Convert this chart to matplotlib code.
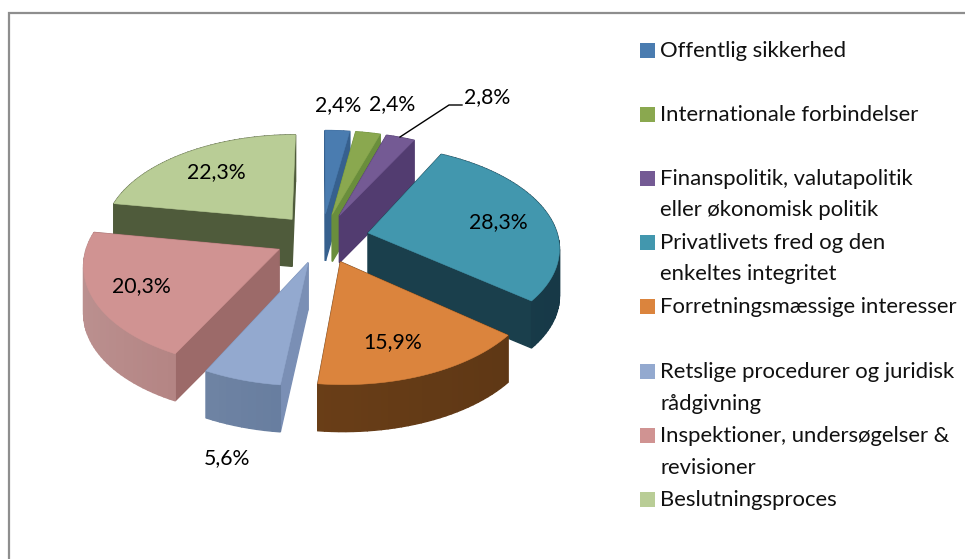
import colorsys

import matplotlib
matplotlib.use("Agg")
import matplotlib.pyplot as plt
import numpy as np
from matplotlib.colors import to_hex, to_rgb
from matplotlib.patches import Rectangle

plt.rcParams["font.family"] = ["Lato", "DejaVu Sans"]

categories = [
    "Offentlig sikkerhed",
    "Internationale forbindelser",
    "Finanspolitik, valutapolitik\neller økonomisk politik",
    "Privatlivets fred og den\nenkeltes integritet",
    "Forretningsmæssige interesser",
    "Retslige procedurer og juridisk\nrådgivning",
    "Inspektioner, undersøgelser &\nrevisioner",
    "Beslutningsproces",
]
values = [2.4, 2.4, 2.8, 28.3, 15.9, 5.6, 20.3, 22.3]
labels = ["2,4%", "2,4%", "2,8%", "28,3%", "15,9%", "5,6%", "20,3%", "22,3%"]

top_colors = ["#4A7CB0", "#8AA84F", "#745A94", "#4297AE", "#DB843D", "#93A9CF", "#D09392", "#B9CD96"]
radial_colors = ["#36608E", "#6A8E3C", "#523C70", "#1A3F4C", "#6A3F18", "#7A8FB5", "#9C6A69", "#4F5B3B"]
arc_colors = ["#3F6A9A", "#6F923F", "#574076", "#1A4050", "#683D17", "#667C9E", "#AE7B7A", "#4F5B3B"]

# pixels of the picture
CX, CY = 322, 238
RX, RY = 190, 100
DEPTH = 47
EXPLODE = 0.25
PERSP = 0.13
LINE_H = 31.5

label_pos = [(338, 105), (392, 104), (487, 97), (498, 222), (393, 342), (227, 458), (141, 286), (216, 172)]
legend_rows = [50, 114, 178, 242, 306, 371, 435, 499]
draw_order = [0, 1, 2, 7, 3, 6, 4, 5]


def project(x, y):
    s = 1 / (1 + PERSP * y)
    return CX + RX * x * s, CY - RY * y * s


def shade(color, factor):
    r, g, b = to_rgb(color)
    h, l, s = colorsys.rgb_to_hls(r, g, b)
    return to_hex(colorsys.hls_to_rgb(h, min(l * factor, 1), s))


def draw_slice(ax, start, stop, top, radial, arc):
    mid = (start + stop) / 2
    ox, oy = EXPLODE * np.sin(mid), EXPLODE * np.cos(mid)
    n = max(int((stop - start) / 0.03), 2)
    th = np.linspace(start, stop, n)
    xs = np.concatenate([[ox], ox + np.sin(th)])
    ys = np.concatenate([[oy], oy + np.cos(th)])
    px, py = project(xs, ys)

    walls = []
    m = len(px)
    for i in range(m):
        j = (i + 1) % m
        is_radial = i == 0 or j == 0
        f = 1.0 if is_radial else 1.0 - 0.12 * np.sin((th[i - 1] + th[j - 1]) / 2)
        color = radial if is_radial else shade(arc, f)
        walls.append(((py[i] + py[j]) / 2, px[[i, j, j, i]], py[[i, j, j, i]] + [0, 0, DEPTH, DEPTH], color))
    for _, wx, wy, color in sorted(walls, key=lambda w: w[0]):
        ax.fill(wx, wy, color=color, lw=1)
    ax.fill(px, py, color=top, lw=0.4)


fig = plt.figure(figsize=(9.65, 5.59), dpi=100)
ax = fig.add_axes([0, 0, 1, 1])
ax.set_xlim(0, 965)
ax.set_ylim(559, 0)
ax.axis("off")

# chart frame, only top and left show
ax.plot([8.5, 8.5, 965], [559, 13, 13], color="#8E8E8E", lw=1.6, solid_joinstyle="miter")

edges = np.radians(np.cumsum([0] + values) * 3.6)
for i in draw_order:
    draw_slice(ax, edges[i], edges[i + 1], top_colors[i], radial_colors[i], arc_colors[i])

for text, (x, y) in zip(labels, label_pos):
    ax.text(x, y, text, fontsize=15.3, color="black", ha="center", va="center")
ax.plot([400, 449, 462], [137, 105, 105], color="black", lw=1)

for name, color, row in zip(categories, top_colors, legend_rows):
    ax.add_patch(Rectangle((640, row - 7.5), 15, 15, color=color, lw=0))
    for k, line in enumerate(name.split("\n")):
        ax.text(660, row + 7 + k * LINE_H, line, fontsize=15.9, color="#111111", va="baseline")

fig.savefig("out.png", dpi=100)
